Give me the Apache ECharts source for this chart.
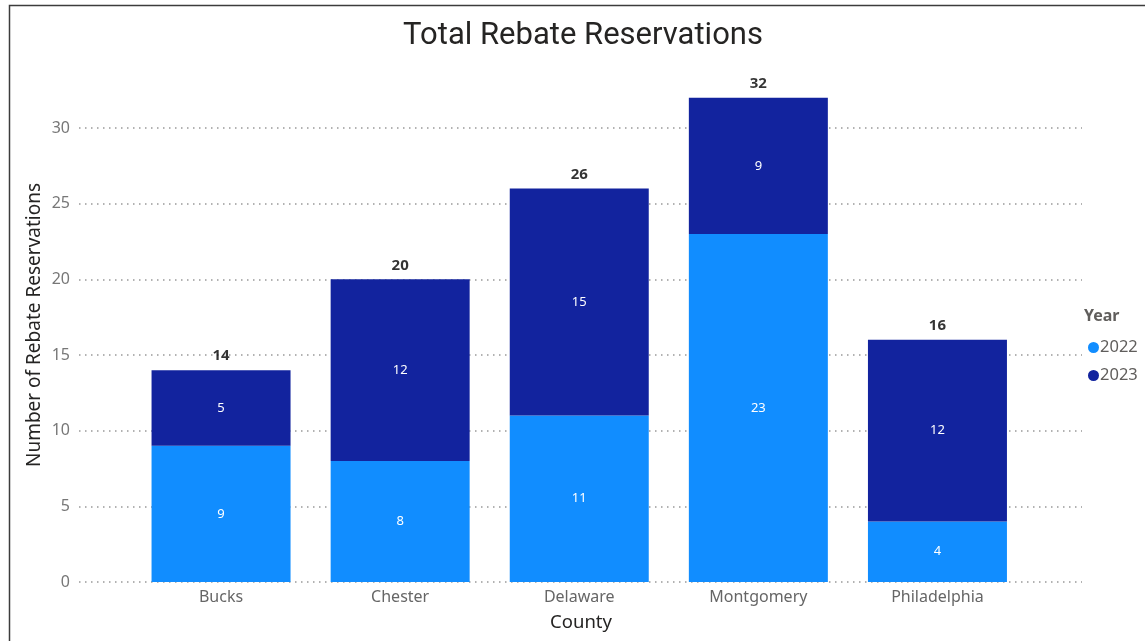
<!DOCTYPE html>
<html>
<head>
<meta charset="utf-8">
<script src="https://cdn.jsdelivr.net/npm/echarts@6/dist/echarts.min.js"></script>
<style>html,body{margin:0;padding:0;background:#fff}#c{width:1145px;height:641px}</style>
</head>
<body>
<div id="c"></div>
<script>
const categories = ['Bucks', 'Chester', 'Delaware', 'Montgomery', 'Philadelphia'];
const years = ['2022', '2023'];
const values2022 = [9, 8, 11, 23, 4];
const values2023 = [5, 12, 15, 9, 12];
const yTicks = [0, 5, 10, 15, 20, 25, 30];

const totals = categories.map((c, i) => values2022[i] + values2023[i]);
const FONT = "'Noto Sans', 'Open Sans', sans-serif";

const chart = echarts.init(document.getElementById('c'), null, {renderer: 'canvas'});
chart.setOption({
  animation: false,
  backgroundColor: '#fff',
  textStyle: {fontFamily: FONT},
  grid: [
    {left: 79, right: 63, top: 128, bottom: 59},
    {left: 131.5, right: 118, top: 128, bottom: 59}
  ],
  xAxis: [
    {gridIndex: 0, type: 'category', data: categories, show: false},
    {gridIndex: 1, type: 'category', data: categories,
      axisLine: {show: false}, axisTick: {show: false},
      axisLabel: {color: '#666', fontSize: 16, margin: 7, fontFamily: FONT}}
  ],
  yAxis: [
    {gridIndex: 0, type: 'value', min: yTicks[0], max: yTicks[yTicks.length - 1], interval: 5,
      axisLine: {show: false}, axisTick: {show: false},
      axisLabel: {color: '#777', fontSize: 16, margin: 9, fontFamily: FONT},
      splitLine: {show: true, lineStyle: {color: '#999', width: 1.5, type: [1.5, 4.5]}}},
    {gridIndex: 1, type: 'value', min: yTicks[0], max: yTicks[yTicks.length - 1], interval: 5,
      show: false, splitLine: {show: false}}
  ],
  legend: {
    orient: 'vertical', left: 1083, top: 334, icon: 'circle',
    itemWidth: 11, itemHeight: 11, itemGap: 11,
    data: years,
    textStyle: {color: '#605e5c', fontSize: 16.5, fontFamily: FONT, padding: [0, 0, 0, -4]}
  },
  series: [
    {name: years[0], type: 'bar', stack: 't', xAxisIndex: 1, yAxisIndex: 1, data: values2022,
      barWidth: 139, clip: false,
      itemStyle: {color: '#118DFF'},
      label: {show: true, position: 'inside', color: '#fff', fontSize: 13, fontFamily: FONT}},
    {name: years[1], type: 'bar', stack: 't', xAxisIndex: 1, yAxisIndex: 1, data: values2023,
      barWidth: 139, clip: false,
      itemStyle: {color: '#12239E'},
      label: {show: true, position: 'inside', color: '#fff', fontSize: 13, fontFamily: FONT}},
    {name: 'total', type: 'scatter', xAxisIndex: 1, yAxisIndex: 1, data: totals,
      symbolSize: 1, clip: false, itemStyle: {color: 'rgba(0,0,0,0)'}, silent: true,
      label: {show: true, position: 'top', distance: 6, color: '#000', fontSize: 15,
        fontWeight: 'bold', fontFamily: FONT}}
  ],
  graphic: [
    {type: 'rect', shape: {x: 9.5, y: 5.5, width: 1300, height: 800},
      style: {fill: 'none', stroke: '#3c3c3c', lineWidth: 1.5}, silent: true},
    {type: 'text', x: 583, y: 36,
      style: {text: 'Total Rebate Reservations', align: 'center', verticalAlign: 'middle',
        font: "31px Roboto, 'Noto Sans', sans-serif", fill: '#252423'}},
    {type: 'text', x: 35, y: 325, rotation: Math.PI / 2,
      style: {text: 'Number of Rebate Reservations', align: 'center', verticalAlign: 'middle',
        font: "19px " + FONT, fill: '#252423'}},
    {type: 'text', x: 581, y: 623,
      style: {text: 'County', align: 'center', verticalAlign: 'middle',
        font: "18.5px " + FONT, fill: '#252423'}},
    {type: 'text', x: 1084, y: 316,
      style: {text: 'Year', align: 'left', verticalAlign: 'middle',
        font: "bold 16px " + FONT, fill: '#605e5c'}}
  ]
});
</script>
</body>
</html>
